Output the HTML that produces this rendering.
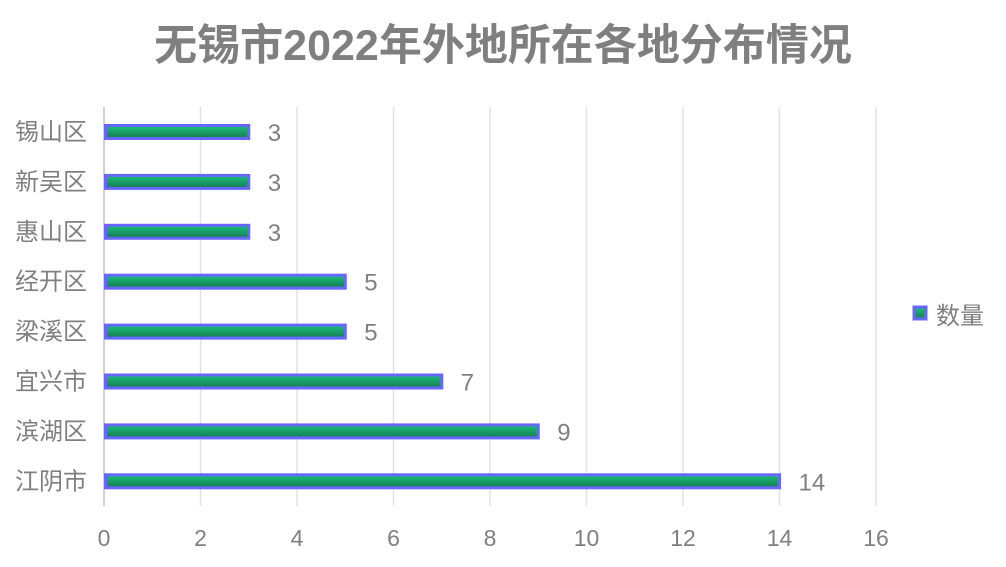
<!DOCTYPE html>
<html><head><meta charset="utf-8"><style>
body{margin:0;background:#fff;}
svg{display:block;font-family:"Liberation Sans","Noto Sans CJK SC",sans-serif;}
</style></head><body>
<svg id="c" width="1006" height="567">
<defs><linearGradient id="g" x1="0" y1="0" x2="0" y2="1"><stop offset="0" stop-color="#19c27a"/><stop offset="1" stop-color="#167a52"/></linearGradient></defs>
<text x="503" y="60" text-anchor="middle" font-size="43" font-weight="bold" fill="#7f7f7f">无锡市2022年外地所在各地分布情况</text>
<g id="grid"></g><g id="bars"></g>
<g>
<rect x="914" y="307" width="12" height="12" fill="url(#g)" stroke="#6767ff" stroke-width="3"/>
<text x="936" y="324" font-size="24" fill="#7f7f7f">数量</text>
</g>
</svg>
<script>
const categories=["锡山区","新吴区","惠山区","经开区","梁溪区","宜兴市","滨湖区","江阴市"];
const values=[3,3,3,5,5,7,9,14];
const ticks=[0,2,4,6,8,10,12,14,16];
const NS="http://www.w3.org/2000/svg";
const x=v=>104+v*48.25;
const y=i=>132+i*49.9;
const grid=document.getElementById('grid'),bars=document.getElementById('bars');
function mk(t,a,p){const e=document.createElementNS(NS,t);for(const k in a)e.setAttribute(k,a[k]);p.appendChild(e);return e;}
ticks.forEach(t=>{
 const l=mk('line',{x1:x(t),x2:x(t),y1:107,y2:506,stroke:t===0?'#d0d0d0':'#e2e2e2','stroke-width':t===0?2:1.5},grid);
 
 
 const tx=mk('text',{x:x(t),y:546,'text-anchor':'middle','font-size':23,fill:'#7f7f7f'},grid);
 tx.textContent=t;
 
 
});
categories.forEach((c,i)=>{
 const cy=y(i);
 const lb=mk('text',{x:87,y:cy+8,'text-anchor':'end','font-size':24,fill:'#7f7f7f'},bars);
 lb.textContent=c;
 
 
 const r=mk('rect',{x:x(0)+1.5,y:cy-6.5,width:x(values[i])-x(0)-1.5,height:13,fill:'url(#g)',stroke:'#6767ff','stroke-width':3},bars);
 
 
 const v=mk('text',{x:x(values[i])+19,y:cy+9,'font-size':24,fill:'#7f7f7f'},bars);
 v.textContent=values[i];
 
 
});
</script>
</body></html>
